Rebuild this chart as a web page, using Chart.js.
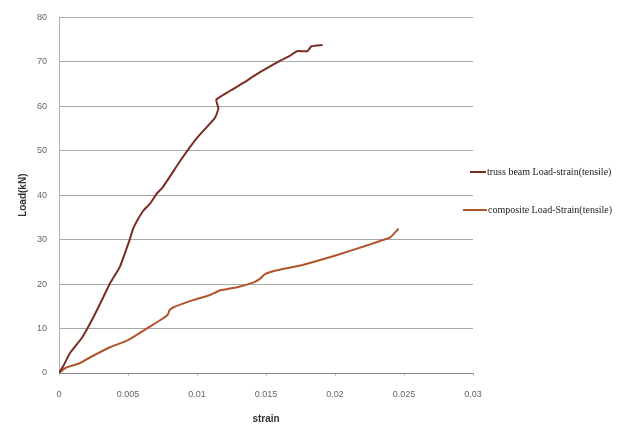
<!DOCTYPE html>
<html>
<head>
<meta charset="utf-8">
<script src="https://cdn.jsdelivr.net/npm/chart.js@4/dist/chart.umd.min.js"></script>
<style>
html,body{margin:0;padding:0;background:#fff;}
#wrap{width:620px;height:425px;position:relative;}
</style>
</head>
<body>
<div id="wrap"><canvas id="c" width="620" height="425"></canvas></div>
<script>
const seriesNames = ["truss beam Load-strain(tensile)", "composite Load-Strain(tensile)"];
const trussStrain = [0,0.0003,0.0008,0.0017,0.0025,0.0032,0.0037,0.0044,0.0051,0.0054,0.0061,0.0066,0.0071,0.0075,0.0088,0.0100,0.0113,0.01155,0.0114,0.0124,0.0136,0.0141,0.0160,0.0167,0.01725,0.0180,0.0183,0.0191];
const trussLoad   = [0,1.5,4.5,8.1,12.6,17.0,20.2,23.8,29.8,32.7,36.5,38.1,40.4,41.7,47.8,52.9,57.4,59.5,61.5,63.5,65.7,66.8,70.2,71.3,72.4,72.4,73.5,73.8];
const compStrain = [0,0.0005,0.0015,0.0023,0.0037,0.0050,0.0064,0.0075,0.0079,0.0080,0.0083,0.0097,0.0109,0.0117,0.0129,0.0141,0.0146,0.0149,0.0158,0.0175,0.0201,0.0223,0.0240,0.0245,0.0246];
const compLoad   = [0,1.2,2.2,3.6,5.8,7.4,10.1,12.2,13.2,14.1,14.8,16.4,17.5,18.6,19.3,20.4,21.3,22.2,23.1,24.2,26.5,28.7,30.5,32.1,32.5];
const xTicks = [0,0.005,0.01,0.015,0.02,0.025,0.03];
const yTicks = [0,10,20,30,40,50,60,70,80];

const toPts = (xs, ys) => xs.map((x, i) => ({x: x, y: ys[i]}));
const colors = ["#7a2e22", "#b0542c"];
const legendPos = [{x0:470,x1:486,y:172},{x0:463,x1:487,y:210}];

const customLegend = {
  id: 'customLegend',
  afterDraw(chart) {
    const ctx = chart.ctx;
    ctx.save();
    chart.data.datasets.forEach((ds, i) => {
      const p = legendPos[i];
      ctx.strokeStyle = ds.borderColor;
      ctx.lineWidth = 2;
      ctx.beginPath();
      ctx.moveTo(p.x0, p.y);
      ctx.lineTo(p.x1, p.y);
      ctx.stroke();
      ctx.fillStyle = '#222';
      ctx.font = '10px "Liberation Serif", serif';
      ctx.textBaseline = 'middle';
      ctx.textAlign = 'left';
      ctx.fillText(ds.label, p.x1 + 1, p.y);
    });
    ctx.restore();
  }
};

new Chart(document.getElementById('c'), {
  type: 'scatter',
  data: {
    datasets: [
      {label: seriesNames[0], data: toPts(trussStrain, trussLoad), showLine: true, borderColor: colors[0], backgroundColor: colors[0], borderWidth: 2, pointRadius: 0, tension: 0.15},
      {label: seriesNames[1], data: toPts(compStrain, compLoad), showLine: true, borderColor: colors[1], backgroundColor: colors[1], borderWidth: 2, pointRadius: 0, tension: 0.15}
    ]
  },
  options: {
    responsive: false,
    animation: false,
    devicePixelRatio: 1,
    layout: {padding: {left: 17, right: 147, top: 12, bottom: 0}},
    plugins: {legend: {display: false}, tooltip: {enabled: false}},
    scales: {
      x: {
        type: 'linear', min: 0, max: 0.03,
        afterBuildTicks: s => { s.ticks = xTicks.map(v => ({value: v})); },
        afterFit: s => { s.height = 52; },
        ticks: {
          color: '#666', font: {family: 'Liberation Sans, Arial', size: 9}, padding: 13,
          maxRotation: 0,
          callback: v => String(Number(v.toFixed(3)))
        },
        grid: {drawOnChartArea: false, drawTicks: true, tickLength: 3, color: '#c8c8c8'},
        border: {display: true, color: '#8a8a8a', width: 1},
        title: {display: true, text: 'strain', color: '#333', font: {family: 'Liberation Sans, Arial', size: 10, weight: 'bold'}, padding: {top: 8, bottom: 0}}
      },
      y: {
        min: 0, max: 80,
        afterBuildTicks: s => { s.ticks = yTicks.map(v => ({value: v})); },
        afterFit: s => { s.width = 42; },
        ticks: {color: '#666', font: {family: 'Liberation Sans, Arial', size: 9}, padding: 12},
        grid: {drawTicks: false, color: '#a8a8a8', lineWidth: 1},
        border: {display: true, color: '#b0b0b0', width: 1},
        title: {display: true, text: 'Load(kN)', color: '#333', font: {family: 'Liberation Sans, Arial', size: 10, weight: 'bold'}, padding: {top: 0, bottom: 4}}
      }
    }
  },
  plugins: [customLegend]
});
</script>
</body>
</html>
